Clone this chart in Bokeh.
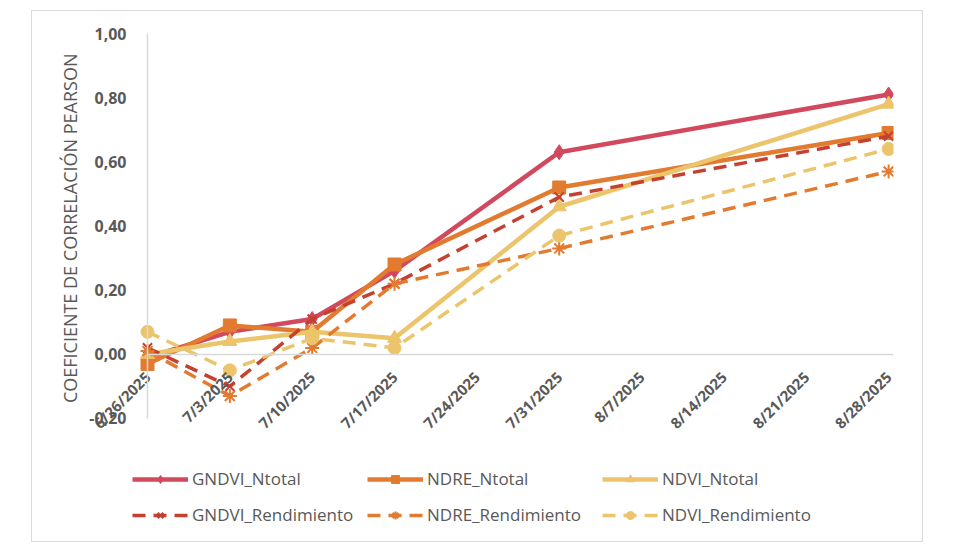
from datetime import datetime, timedelta, timezone
from math import pi
from bokeh.plotting import figure
from bokeh.models import (Range1d, FixedTicker, CustomJSTickFormatter,
                          Legend, LegendItem, ColumnDataSource)
from bokeh.core.properties import value
from bokeh.embed import file_html
from bokeh.resources import INLINE

# ---------------- data ----------------
dates = [datetime(2025, 6, 26), datetime(2025, 7, 3), datetime(2025, 7, 10),
         datetime(2025, 7, 17), datetime(2025, 7, 31), datetime(2025, 8, 28)]
gndvi_ntotal = [-0.01, 0.07, 0.11, 0.26, 0.63, 0.81]
ndre_ntotal = [-0.03, 0.09, 0.07, 0.28, 0.52, 0.69]
ndvi_ntotal = [0.00, 0.04, 0.07, 0.05, 0.46, 0.78]
gndvi_rend = [0.02, -0.10, 0.11, 0.22, 0.49, 0.68]
ndre_rend = [0.01, -0.13, 0.02, 0.22, 0.33, 0.57]
ndvi_rend = [0.07, -0.05, 0.05, 0.02, 0.37, 0.64]

tick_dates = [datetime(2025, 6, 26), datetime(2025, 7, 3), datetime(2025, 7, 10),
              datetime(2025, 7, 17), datetime(2025, 7, 24), datetime(2025, 7, 31),
              datetime(2025, 8, 7), datetime(2025, 8, 14), datetime(2025, 8, 21),
              datetime(2025, 8, 28)]
tick_labels = ["6/26/2025", "7/3/2025", "7/10/2025", "7/17/2025", "7/24/2025",
               "7/31/2025", "8/7/2025", "8/14/2025", "8/21/2025", "8/28/2025"]
y_ticks = [-0.2, 0.0, 0.2, 0.4, 0.6, 0.8, 1.0]
y_title = "COEFICIENTE DE CORRELACIÓN  PEARSON"

FONT = "Open Sans"
GRAY = "#595959"


def to_ms(d):
    return d.replace(tzinfo=timezone.utc).timestamp() * 1000.0


tick_ms = [to_ms(d) for d in tick_dates]

# layout: frame spans 40..893 px horizontally; value axis sits on the first date (147 px)
FRAME_LEFT = 40
X_FIRST = tick_dates[0]
X_LAST = tick_dates[-1] + timedelta(hours=10)
PX_PER_DAY = 746.0 / ((X_LAST - X_FIRST).total_seconds() / 86400.0)
X_START = X_FIRST - timedelta(days=(147 - FRAME_LEFT) / PX_PER_DAY)

p = figure(width=892, height=532, x_axis_type="datetime",
           output_backend="svg", toolbar_location=None,
           x_range=Range1d(X_START, X_LAST),
           y_range=Range1d(-0.5835, 1.0686),
           min_border_left=FRAME_LEFT - 32, min_border_top=0, min_border_right=31,
           min_border_bottom=2,
           styles={"margin-left": "31px", "margin-top": "10px",
                   "border": "1px solid #d9d9d9"})
p.outline_line_color = None
p.grid.visible = False

# y axis (drawn on the first date)
ya = p.yaxis[0]
ya.fixed_location = to_ms(X_FIRST)
ya.bounds = (-0.2, 1.0)
ya.ticker = FixedTicker(ticks=y_ticks)
ya.formatter = CustomJSTickFormatter(code="return tick.toFixed(2).replace('.', ',');")
ya.axis_line_color = "#d9d9d9"
ya.axis_line_width = 1.5
ya.major_tick_line_color = None
ya.minor_tick_line_color = None
ya.major_label_text_font = FONT
ya.major_label_text_font_style = "bold"
ya.major_label_text_font_size = "16px"
ya.major_label_text_color = GRAY
ya.major_label_standoff = 15
ya.axis_label = None

# value-axis title, centred on the bounded axis
p.text(x=[X_FIRST], y=[0.4], text=[y_title], angle=pi / 2, x_offset=-78,
       text_align="center", text_baseline="middle", text_font=value(FONT),
       text_font_size="18px", text_color=GRAY)

# x axis crossing at y = 0
xa = p.xaxis[0]
xa.fixed_location = 0
xa.bounds = (to_ms(X_FIRST), to_ms(X_LAST))
xa.ticker = FixedTicker(ticks=tick_ms)
xa.formatter = CustomJSTickFormatter(args=dict(tvals=tick_ms, tlabs=tick_labels), code="""
for (let i = 0; i < tvals.length; i++) {
  if (Math.abs(tvals[i] - tick) < 60000) return tlabs[i];
}
return '';
""")
xa.axis_line_color = "#d9d9d9"
xa.axis_line_width = 1.5
xa.major_tick_line_color = None
xa.minor_tick_line_color = None
xa.major_label_orientation = pi / 4
xa.major_label_standoff = 14
xa.major_label_text_font = FONT
xa.major_label_text_font_style = "bold"
xa.major_label_text_font_size = "15px"
xa.major_label_text_color = GRAY

C_GN = "#d2485d"
C_GR = "#c4402f"
C_OR = "#e27a30"
C_YE = "#ebc46b"
DASH = "13 8"

series = [
    ("GNDVI_Ntotal", gndvi_ntotal, C_GN, "solid", "diamond", 15, 4.5),
    ("NDRE_Ntotal", ndre_ntotal, C_OR, "solid", "square", 13, 4.5),
    ("NDVI_Ntotal", ndvi_ntotal, C_YE, "solid", "triangle", 14, 4.5),
    ("GNDVI_Rendimiento", gndvi_rend, C_GR, DASH, "x", 13, 3.5),
    ("NDRE_Rendimiento", ndre_rend, C_OR, DASH, "asterisk", 14, 3.5),
    ("NDVI_Rendimiento", ndvi_rend, C_YE, DASH, "circle", 13, 3.5),
]

items = []
for name, vals, col, dash, marker, size, lw in series:
    src = ColumnDataSource(dict(x=dates, y=vals))
    r1 = p.line("x", "y", source=src, line_color=col, line_width=lw, line_dash=dash)
    mlw = 2 if marker in ("x", "asterisk") else 1
    r2 = p.scatter("x", "y", source=src, marker=marker, size=size, fill_color=col,
                   line_color=col, line_width=mlw)
    items.append(LegendItem(label=name, renderers=[r1, r2]))


def make_legend(its, y):
    return Legend(items=its, orientation="horizontal", location=(132 - FRAME_LEFT, y),
                  glyph_width=56, glyph_height=20, label_height=20, label_width=170,
                  label_standoff=4, spacing=5, padding=0, margin=0,
                  border_line_color=None, background_fill_alpha=0,
                  label_text_font=FONT, label_text_font_size="17px",
                  label_text_color=GRAY)


p.add_layout(make_legend(items[:3], 51), "center")
p.add_layout(make_legend(items[3:], 15), "center")

open("out.html", "w").write(file_html(p, INLINE))
